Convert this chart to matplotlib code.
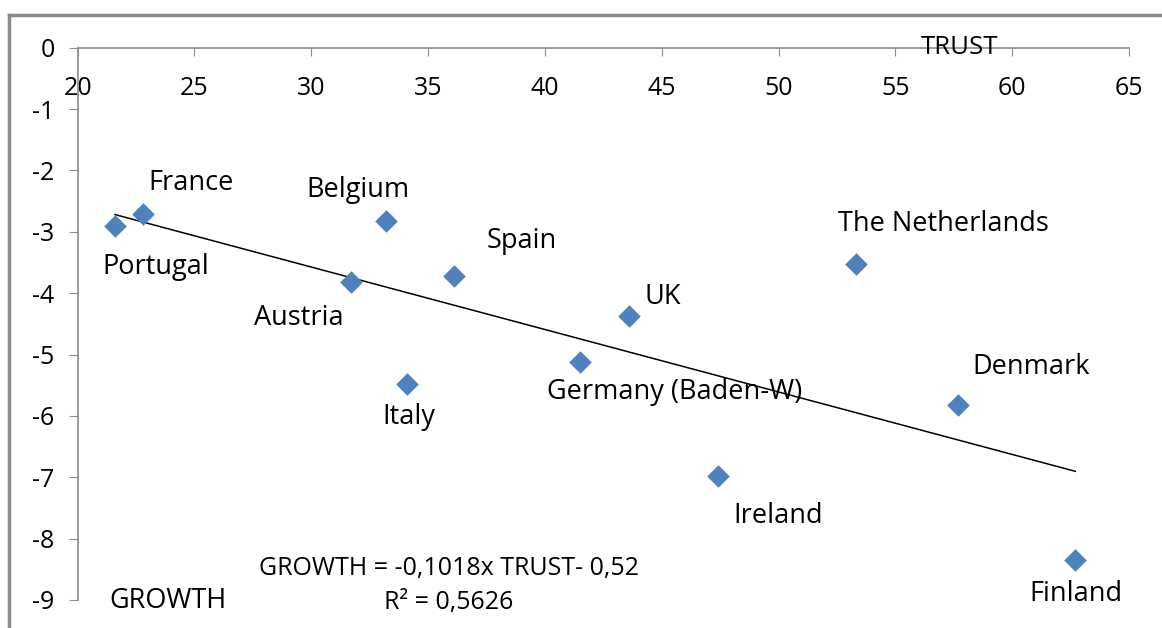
import matplotlib
matplotlib.use("Agg")
import matplotlib.pyplot as plt
from matplotlib.lines import Line2D

countries = ["Portugal", "France", "Belgium", "Austria", "Spain", "Italy",
             "Germany (Baden-W)", "UK", "The Netherlands", "Ireland",
             "Denmark", "Finland"]
trust = [21.6, 22.8, 33.2, 31.7, 36.1, 34.1, 41.5, 43.6, 53.3, 47.4, 57.7, 62.7]
growth = [-2.9, -2.71, -2.82, -3.82, -3.72, -5.48, -5.12, -4.37, -3.53, -6.98, -5.82, -8.35]
slope = -0.1018
intercept = -0.52
r2 = "0,5626"
x_ticks = [20, 25, 30, 35, 40, 45, 50, 55, 60, 65]
y_ticks = [0, -1, -2, -3, -4, -5, -6, -7, -8, -9]

# label offsets in points (dx, dy) from the marker; text left-aligned
label_offsets = {
    "Portugal": (-9.4, -30),
    "France": (3.6, 22.5),
    "Belgium": (-57.6, 22),
    "Austria": (-70, -25.5),
    "Spain": (24, 25),
    "Italy": (-18, -23.5),
    "Germany (Baden-W)": (-24, -22),
    "UK": (11, 13.5),
    "The Netherlands": (-13, 29),
    "Ireland": (11, -29),
    "Denmark": (10, 27),
    "Finland": (-33, -24.5),
}

plt.rcParams['font.family'] = ['Open Sans', 'DejaVu Sans']
plt.rcParams['axes.unicode_minus'] = False
fs = 18
fs_lab = 19.5
blue = "#4F81BD"
gray = "#8C8C8C"

fig = plt.figure(figsize=(11.62, 6.28), dpi=100)
ax = fig.add_axes([0.0668, 0.0446, 0.9048, 0.8794])
ax.set_xlim(20, 65)
ax.set_ylim(-9, 0)

ax.scatter(trust, growth, marker="D", s=11.5**2, color=blue, zorder=3, linewidths=0)
x0, x1 = min(trust), max(trust)
ax.plot([x0, x1], [slope * x0 + intercept, slope * x1 + intercept], color="black", lw=1.1, zorder=2)

for c, x, y in zip(countries, trust, growth):
    dx, dy = label_offsets[c]
    ax.annotate(c, (x, y), xytext=(dx, dy), textcoords="offset points",
                ha="left", va="center", fontsize=fs_lab, color="black")

for s in ["right", "bottom"]:
    ax.spines[s].set_visible(False)
for s in ["left", "top"]:
    ax.spines[s].set_color(gray)
    ax.spines[s].set_linewidth(1.2)

ax.set_xticks(x_ticks)
ax.set_yticks(y_ticks)
ax.xaxis.tick_top()
ax.tick_params(axis="x", direction="in", length=6, color=gray, pad=-38, labelsize=fs)
ax.tick_params(axis="y", direction="out", length=6.5, color=gray, pad=10, labelsize=fs)

ax.text(0.839, 1.0, "TRUST", transform=ax.transAxes, ha="center", va="center", fontsize=18.5)
ax.text(0.086, -0.002, "GROWTH", transform=ax.transAxes, ha="center", va="center", fontsize=19.5)
ax.text(0.353, 0.057, "GROWTH = -0,1018x TRUST- 0,52", transform=ax.transAxes,
        ha="center", va="center", fontsize=fs)
ax.text(0.353, -0.005, "R² = " + r2, transform=ax.transAxes,
        ha="center", va="center", fontsize=fs)

fig.add_artist(Line2D([9/1162, 9/1162], [0, 1 - 15/628], color=gray, lw=2.5))
fig.add_artist(Line2D([9/1162, 1], [1 - 15/628, 1 - 15/628], color=gray, lw=2.5))

fig.savefig("out.png", dpi=100)
